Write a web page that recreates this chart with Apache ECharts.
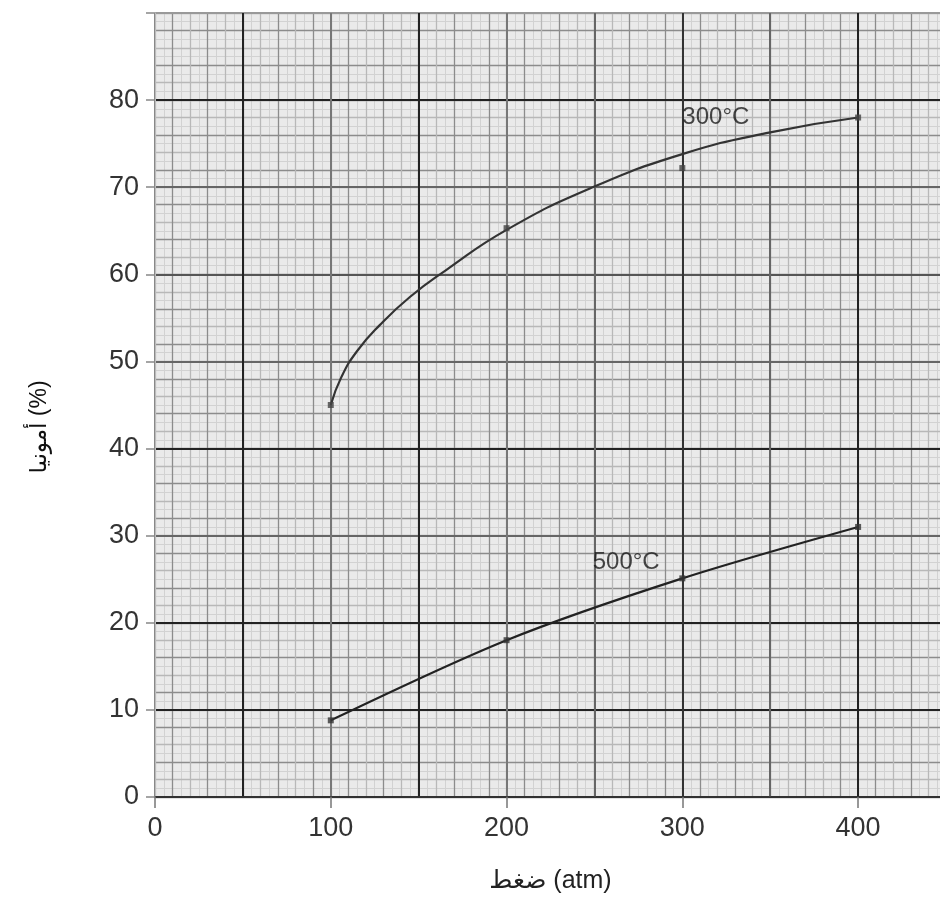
<!DOCTYPE html>
<html>
<head>
<meta charset="utf-8">
<script src="https://cdn.jsdelivr.net/npm/echarts@6/dist/echarts.min.js"></script>
<style>html,body{margin:0;padding:0;background:#fff;}#c{width:940px;height:913px;}</style>
</head>
<body>
<div id="c"></div>
<script>
// Smooth fitted curve at 300 °C
const curve300X = [100, 106, 115, 128, 145, 165, 200, 248, 300, 350, 400];
const curve300Y = [45, 48.2, 51.2, 54.2, 57.4, 60.4, 65.1, 69.9, 73.8, 76.3, 78];
// Measured points at 300 °C
const pts300X = [100, 200, 300, 400];
const pts300Y = [45, 65.3, 72.2, 78];
// Measured points at 500 °C
const pts500X = [100, 200, 300, 400];
const pts500Y = [8.8, 18, 25.1, 31];
// Curve labels
const labelNames = ['300°C', '500°C'];
const labelX = [300, 249];
const labelY = [78, 26.9];
// Axis tick labels
const xTickLabels = ['0', '100', '200', '300', '400'];
const yTickLabels = ['0', '10', '20', '30', '40', '50', '60', '70', '80'];

const xName = 'ضغط (atm)';
const yName = 'أمونيا (%)';

const zip = (a, b) => a.map((v, i) => [v, b[i]]);

const FONT = '"Liberation Sans", Arial, "DejaVu Sans", sans-serif';

const xMajorColors = ['#888', '#222', '#777', '#222', '#777', '#666', '#333', '#666', '#222', '#888'];
const yMajorColors = ['#333', '#222', '#222', '#666', '#222', '#666', '#555', '#666', '#222', '#999'];

function hiddenAxis(extra) {
  return Object.assign({
    type: 'value', show: true,
    axisLine: { show: false }, axisTick: { show: false }, axisLabel: { show: false }
  }, extra);
}

function tickLabel(list, step) {
  return (v) => {
    const i = Math.round(v / step);
    return Math.abs(v - i * step) < 1e-6 && list[i] !== undefined ? list[i] : '';
  };
}

const chart = echarts.init(document.getElementById('c'), null, { renderer: 'canvas' });
chart.setOption({
  animation: false,
  backgroundColor: '#fff',
  grid: {
    left: 155, right: -6, top: 13, bottom: 116,
    outerBoundsMode: 'none', containLabel: false,
    show: true, backgroundColor: '#eaeaea', borderWidth: 0
  },
  xAxis: [
    {
      type: 'value', min: 0, max: 450, interval: 100, position: 'bottom', z: 10,
      name: xName, nameLocation: 'middle', nameGap: 72,
      nameTextStyle: { fontFamily: FONT, fontSize: 25, color: '#222' },
      axisLine: { show: true, onZero: false, lineStyle: { color: '#333', width: 1.5 } },
      axisTick: { show: true, length: 11, lineStyle: { color: '#777', width: 1.5 } },
      axisLabel: {
        fontFamily: FONT, fontSize: 27, color: '#333', margin: 18,
        formatter: tickLabel(xTickLabels, 100)
      },
      splitLine: { show: false }
    },
    hiddenAxis({ min: 0, max: 450, interval: 5, z: 1, splitLine: { show: true, lineStyle: { color: '#d2d2d2', width: 1 } } }),
    hiddenAxis({ min: 0, max: 450, interval: 10, z: 2, splitLine: { show: true, lineStyle: { color: ['#b8b8b8', '#8c8c8c'], width: 1.3 } } }),
    hiddenAxis({ min: 0, max: 450, interval: 50, z: 3, splitLine: { show: true, lineStyle: { color: xMajorColors, width: 2 } } })
  ],
  yAxis: [
    {
      type: 'value', min: 0, max: 90, interval: 10, position: 'left', z: 10,
      name: yName, nameLocation: 'middle', nameGap: 104, nameRotate: 90,
      nameTextStyle: { fontFamily: FONT, fontSize: 23, color: '#111', padding: [0, 44, 0, 0] },
      axisLine: { show: true, onZero: false, lineStyle: { color: '#bbb', width: 1 } },
      axisTick: { show: true, length: 9, lineStyle: { color: '#888', width: 1.5 } },
      axisLabel: {
        fontFamily: FONT, fontSize: 27, color: '#333', margin: 16,
        formatter: tickLabel(yTickLabels, 10)
      },
      splitLine: { show: false }
    },
    hiddenAxis({ min: 0, max: 90, interval: 1, z: 1, splitLine: { show: true, lineStyle: { color: '#d2d2d2', width: 1 } } }),
    hiddenAxis({ min: 0, max: 90, interval: 2, z: 2, splitLine: { show: true, lineStyle: { color: ['#8c8c8c', '#b8b8b8'], width: 1.3 } } }),
    hiddenAxis({ min: 0, max: 90, interval: 10, z: 3, splitLine: { show: true, lineStyle: { color: yMajorColors, width: 2 } } })
  ],
  series: [
    {
      name: '300 curve', type: 'line', smooth: 0.5, showSymbol: false, z: 20,
      data: zip(curve300X, curve300Y),
      lineStyle: { color: '#333', width: 2.2 }
    },
    {
      name: '500 curve', type: 'line', smooth: 0.3, showSymbol: false, z: 20,
      data: zip(pts500X, pts500Y),
      lineStyle: { color: '#222', width: 2.2 }
    },
    {
      name: '300 points', type: 'scatter', symbol: 'rect', symbolSize: 6, z: 21,
      data: zip(pts300X, pts300Y),
      itemStyle: { color: '#444' }
    },
    {
      name: '500 points', type: 'scatter', symbol: 'rect', symbolSize: 6, z: 21,
      data: zip(pts500X, pts500Y),
      itemStyle: { color: '#333' }
    },
    {
      name: 'labels', type: 'scatter', symbolSize: 0, z: 22, silent: true,
      data: labelNames.map((n, i) => ({ name: n, value: [labelX[i], labelY[i]] })),
      label: {
        show: true, position: 'right', distance: 0, formatter: '{b}',
        fontFamily: FONT, fontSize: 24, color: '#1a1a1a'
      }
    }
  ]
});
</script>
</body>
</html>
